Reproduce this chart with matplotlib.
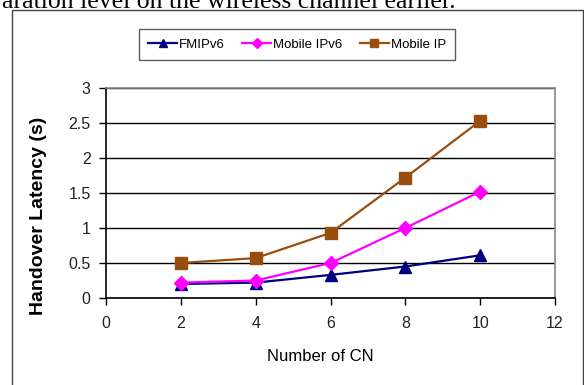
import numpy as np
import matplotlib.pyplot as plt
from matplotlib.patches import Rectangle

# number of correspondent nodes and measured handover latency (s)
cn = [2, 4, 6, 8, 10]
fmipv6 = [0.20, 0.22, 0.33, 0.45, 0.61]
mipv6 = [0.22, 0.25, 0.50, 1.00, 1.52]
mip = [0.50, 0.57, 0.93, 1.72, 2.53]

xticks = [0, 2, 4, 6, 8, 10, 12]
yticks = [0, 0.5, 1, 1.5, 2, 2.5, 3]
ytick_labels = ['0', '0.5', '1', '1.5', '2', '2.5', '3']

fig = plt.figure(figsize=(5.84, 3.85), dpi=100)
W, H = 584, 385

# caption line of the surrounding page, cut at the top
fig.text(2 / W, 1 - 8 / H, 'aration level on the wireless channel earlier.',
         family='Liberation Serif', fontsize=18.5, va='baseline', ha='left')

# frame around the chart
fig.patches.append(Rectangle((12 / W, -0.1), (583 - 12) / W, (1 - 10 / H) + 0.1,
                             transform=fig.transFigure, fill=False,
                             edgecolor='#444444', linewidth=1.0))

ax = fig.add_axes([106 / W, 1 - 298 / H, 449 / W, 210 / H])
ax.plot(cn, fmipv6, color='#000080', marker='^', markersize=8, linewidth=1.6, label='FMIPv6')
ax.plot(cn, mipv6, color='#ff00ff', marker='D', markersize=7, linewidth=1.6, label='Mobile IPv6')
ax.plot(cn, mip, color='#994d0f', marker='s', markersize=8, linewidth=1.6, label='Mobile IP')

ax.set_xlim(0, 12)
ax.set_ylim(0, 3)
ax.set_xticks(xticks)
ax.set_yticks(yticks)
ax.set_yticklabels(ytick_labels)
ax.grid(axis='y', color='black', linewidth=1.0)
ax.set_axisbelow(True)
for s in ['top', 'right']:
    ax.spines[s].set_color('#888888')
    ax.spines[s].set_linewidth(1.2)
for s in ['left', 'bottom']:
    ax.spines[s].set_color('black')
    ax.spines[s].set_linewidth(1.2)
ax.tick_params(direction='out', length=5, width=1.0, labelsize=11.5,
               labelcolor='#222222')
ax.tick_params(axis='x', pad=8)
ax.tick_params(axis='y', pad=6)
for lab in ax.get_xticklabels() + ax.get_yticklabels():
    lab.set_family('Liberation Sans')

ax.set_xlabel('Number of CN', family='Liberation Sans', fontsize=12)
ax.xaxis.set_label_coords((320 - 106) / 449, (298 - 349) / 210)
ax.set_ylabel('Handover Latency (s)', family='Liberation Sans', fontsize=14,
              fontweight='bold')
ax.yaxis.set_label_coords((47 - 106) / 449, (298 - 216) / 210)

leg = fig.legend(loc='center', bbox_to_anchor=(297 / W, 1 - 44.5 / H), ncol=3,
                 frameon=True, fancybox=False, edgecolor='#333333',
                 prop={'family': 'Liberation Sans', 'size': 9.5}, handlelength=2.2,
                 handletextpad=0.15, columnspacing=1.3, borderpad=0.7,
                 markerscale=0.7)
leg.get_frame().set_linewidth(1.0)

fig.savefig('out.png', dpi=100)
